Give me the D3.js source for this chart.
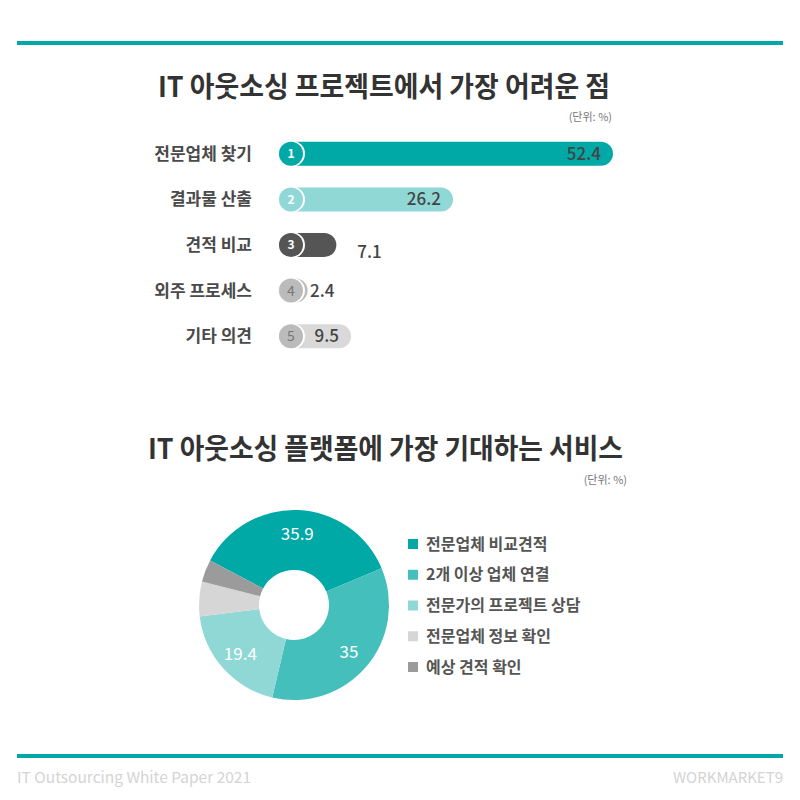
<!DOCTYPE html>
<html><head><meta charset="utf-8">
<script src="https://cdn.jsdelivr.net/npm/d3@7"></script>
<style>
body{margin:0;background:#fff;}
svg{font-family:"Noto Sans CJK KR","Noto Sans",sans-serif;}
</style></head>
<body><svg id="c" width="800" height="800"></svg>
<script>
// ---- data ----
const barCategories = ["전문업체 찾기","결과물 산출","견적 비교","외주 프로세스","기타 의견"];
const barValues = [52.4, 26.2, 7.1, 2.4, 9.5];
const barRanks = ["1","2","3","4","5"];
const pieCategories = ["전문업체 비교견적","2개 이상 업체 연결","전문가의 프로젝트 상담","전문업체 정보 확인","예상 견적 확인"];
const pieValues = [35.9, 35, 19.4, 5.9, 3.8];
const pieLabels = ["35.9","35","19.4","",""];
const title1 = "IT 아웃소싱 프로젝트에서 가장 어려운 점";
const title2 = "IT 아웃소싱 플랫폼에 가장 기대하는 서비스";
const unitText = "(단위: %)";
const footerLeft = "IT Outsourcing White Paper 2021";
const footerRight = "WORKMARKET9";

const barColors = ["#00a8a6","#8fd8d6","#555555","#bdbdbd","#d9d9d9"];
const circleColors = ["#00a8a6","#8fd8d6","#555555","#bbbbbb","#bbbbbb"];
const rankColors = ["#fff","#fff","#fff","#777","#777"];
const pieColors = ["#00a8a6","#45bfbc","#8fd8d6","#d6d6d6","#9b9b9b"];

const svg = d3.select("#c");
const teal = "#00a8a6";

// rules
svg.append("rect").attr("x",17).attr("y",41).attr("width",766).attr("height",4).attr("fill",teal);
svg.append("rect").attr("x",17).attr("y",754).attr("width",766).attr("height",4).attr("fill",teal);

// footer
svg.append("text").attr("x",17).attr("y",783).attr("font-size",15).attr("fill","#d4d4d4")
  .attr("textLength",234).attr("lengthAdjust","spacingAndGlyphs").text(footerLeft);
svg.append("text").attr("x",783).attr("y",783).attr("text-anchor","end").attr("font-size",15).attr("fill","#d4d4d4")
  .attr("textLength",110).attr("lengthAdjust","spacingAndGlyphs").text(footerRight);

// titles
function title(txt, cx, y, w){
  svg.append("text").attr("x",cx).attr("y",y).attr("text-anchor","middle")
    .attr("font-size",28).attr("font-weight",700).attr("fill","#333")
    .attr("textLength",w).attr("lengthAdjust","spacingAndGlyphs").text(txt);
}
title(title1, 384, 97, 452);
title(title2, 385.5, 459, 475);
svg.append("text").attr("x",612).attr("y",121).attr("text-anchor","end").attr("font-size",11).attr("fill","#777").text(unitText);
svg.append("text").attr("x",627).attr("y",484).attr("text-anchor","end").attr("font-size",11).attr("fill","#777").text(unitText);

// ---- bar chart ----
const x = d3.scaleLinear().domain([0, 52.4]).range([293, 613]);
const y = d3.scaleBand().domain(barCategories).range([131, 359]).padding(0);
const bh = 24, r = 12, cxb = 291;
const g = svg.append("g");
barCategories.forEach((c,i)=>{
  const cy = y(c) + y.bandwidth()/2;
  const x1 = x(barValues[i]);
  g.append("text").attr("x",252).attr("y",cy).attr("dy","0.35em").attr("text-anchor","end")
    .attr("font-size",17).attr("font-weight",600).attr("fill","#4a4a4a").text(c);
  // bar
  g.append("rect").attr("x",cxb-r).attr("y",cy-bh/2).attr("width",x1-(cxb-r)).attr("height",bh)
    .attr("rx",r).attr("fill",barColors[i]);
  // circle
  g.append("circle").attr("cx",cxb+1).attr("cy",cy).attr("r",r+1).attr("fill","#fff");
  g.append("circle").attr("cx",cxb).attr("cy",cy).attr("r",r).attr("fill",circleColors[i]);
  g.append("text").attr("x",cxb).attr("y",cy).attr("dy","0.36em").attr("text-anchor","middle")
    .attr("font-size",i<3?12:14).attr("font-weight",i<3?700:400).attr("fill",rankColors[i]).text(barRanks[i]);
  // value label
  const v = barValues[i];
  const lab = g.append("text").attr("font-size",17).attr("font-weight",500).attr("fill","#444").text(v);
  if (i===2){
    lab.attr("x",x1+21).attr("y",cy+7).attr("dy","0.35em");
  } else if (x1 - cxb > 40){
    lab.attr("x",x1-12).attr("y",cy).attr("dy","0.35em").attr("text-anchor","end");
  } else {
    lab.attr("x",cxb+19).attr("y",cy).attr("dy","0.35em");
  }
});

// ---- donut ----
const cx = 294, cyy = 605, R = 95, r0 = 35;
const a0 = -62 * Math.PI/180;
const pie = d3.pie().sort(null).startAngle(a0).endAngle(a0 + 2*Math.PI);
const arcs = pie(pieValues);
const arc = d3.arc().innerRadius(r0).outerRadius(R);
const lblArc = d3.arc().innerRadius(72).outerRadius(72);
const dg = svg.append("g").attr("transform",`translate(${cx},${cyy})`);
dg.selectAll("path").data(arcs).join("path").attr("d",arc).attr("fill",(d,i)=>pieColors[i]);
dg.selectAll("text").data(arcs).join("text")
  .attr("transform",d=>`translate(${lblArc.centroid(d)})`)
  .attr("text-anchor","middle").attr("dy","0.4em").attr("font-size",17).attr("fill","#fff")
  .text((d,i)=>pieLabels[i]);

// legend
const ly = d3.scalePoint().domain(pieCategories).range([544, 667]);
const lg = svg.append("g");
pieCategories.forEach((c,i)=>{
  lg.append("rect").attr("x",408).attr("y",ly(c)-5).attr("width",10).attr("height",10).attr("fill",pieColors[i]);
  lg.append("text").attr("x",426).attr("y",ly(c)).attr("dy","0.35em").attr("font-size",16).attr("font-weight",600)
    .attr("fill","#555").text(c);
});
</script></body></html>
